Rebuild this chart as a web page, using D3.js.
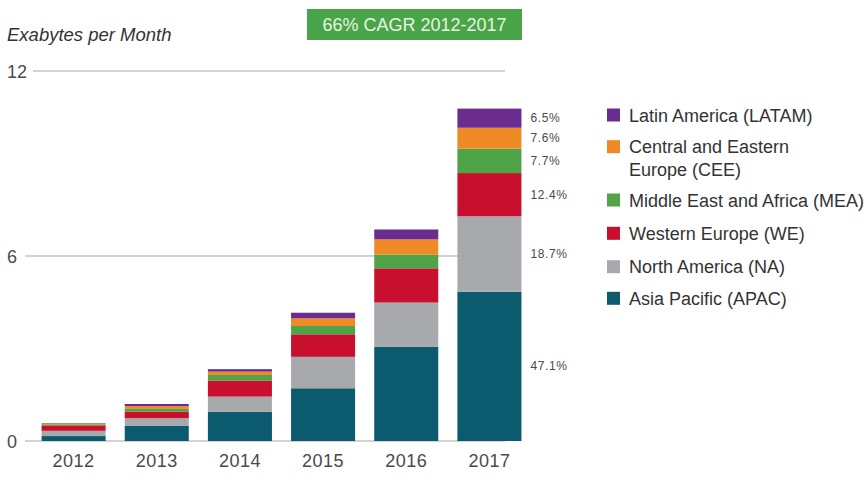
<!DOCTYPE html>
<html>
<head>
<meta charset="utf-8">
<script src="https://cdn.jsdelivr.net/npm/d3@7"></script>
<style>
  html, body { margin: 0; padding: 0; background: #fff; }
  svg { display: block; font-family: "Liberation Sans", Arial, sans-serif; }
</style>
</head>
<body>
<svg id="chart" width="864" height="480"></svg>
<script>
// ---- data ----
const years = ["2012", "2013", "2014", "2015", "2016", "2017"];
const regionKeys = ["APAC", "NA", "WE", "MEA", "CEE", "LATAM"];
const regionLabels = [
  ["Latin America (LATAM)"],
  ["Central and Eastern", "Europe (CEE)"],
  ["Middle East and Africa (MEA)"],
  ["Western Europe (WE)"],
  ["North America (NA)"],
  ["Asia Pacific (APAC)"]
];
const legendOrder = ["LATAM", "CEE", "MEA", "WE", "NA", "APAC"];
const apac  = [0.16, 0.49, 0.95, 1.71, 3.06, 4.84];
const na    = [0.17, 0.25, 0.49, 1.02, 1.43, 2.45];
const we    = [0.16, 0.21, 0.52, 0.73, 1.11, 1.40];
const mea   = [0.03, 0.09, 0.18, 0.27, 0.45, 0.79];
const cee   = [0.03, 0.09, 0.11, 0.25, 0.49, 0.68];
const latam = [0.02, 0.07, 0.08, 0.18, 0.32, 0.62];
const share2017 = ["47.1%", "18.7%", "12.4%", "7.7%", "7.6%", "6.5%"];
const yTicks = [0, 6, 12];
const yTitle = "Exabytes per Month";
const banner = "66% CAGR 2012-2017";

const colors = {
  APAC: "#0c5a6e", NA: "#a8a9ad", WE: "#c8102e",
  MEA: "#4ea446", CEE: "#f08a24", LATAM: "#6a2c8f"
};

// ---- build table ----
const seriesVals = { APAC: apac, NA: na, WE: we, MEA: mea, CEE: cee, LATAM: latam };
const table = years.map((y, i) => {
  const row = { year: y };
  regionKeys.forEach(k => row[k] = seriesVals[k][i]);
  return row;
});
const stacked = d3.stack().keys(regionKeys)(table);

const svg = d3.select("#chart");

const x = d3.scaleBand().domain(years).range([32, 531])
  .paddingInner(0.23).paddingOuter(0.115);
const y = d3.scaleLinear().domain([0, 12]).range([441, 71]);

// gridlines + y labels
const yAxisG = svg.append("g");
yAxisG.selectAll("line").data(yTicks).enter().append("line")
  .attr("x1", d => d >= 10 ? 33 : 25)
  .attr("x2", 505)
  .attr("y1", d => y(d)).attr("y2", d => y(d))
  .attr("stroke", "#c4c4c4").attr("stroke-width", 1.5);
yAxisG.selectAll("text").data(yTicks).enter().append("text")
  .attr("x", 7).attr("y", d => y(d) + 6.5)
  .attr("font-size", 18).attr("fill", "#4a4a4a")
  .text(d => d);

// bars
svg.append("g").selectAll("g").data(stacked).enter().append("g")
  .attr("fill", d => colors[d.key])
  .selectAll("rect").data(d => d).enter().append("rect")
  .attr("x", d => x(d.data.year))
  .attr("width", x.bandwidth())
  .attr("y", d => y(d[1]))
  .attr("height", d => y(d[0]) - y(d[1]));

// x axis labels
const xAxis = d3.axisBottom(x).tickSize(0).tickPadding(0);
const xg = svg.append("g").attr("transform", "translate(0,454)").call(xAxis);
xg.select(".domain").remove();
xg.selectAll("text").attr("font-size", 18).attr("fill", "#4a4a4a")
  .attr("font-family", "\"Liberation Sans\", Arial, sans-serif")
  .attr("letter-spacing", 0.5)
  .attr("dy", "0.71em");

// 2017 share labels
const last = years.length - 1;
svg.append("g").selectAll("text").data(stacked).enter().append("text")
  .attr("x", x(years[last]) + x.bandwidth() + 9)
  .attr("y", (d, i) => (y(d[last][0]) + y(d[last][1])) / 2 + 4)
  .attr("font-size", 12).attr("fill", "#4a4a4a").attr("letter-spacing", 0.6)
  .text((d, i) => share2017[i]);

// y title
svg.append("text").attr("x", 7).attr("y", 41)
  .attr("font-size", 18.5).attr("font-style", "italic").attr("fill", "#333")
  .text(yTitle);

// banner
svg.append("rect").attr("x", 307).attr("y", 9).attr("width", 215).attr("height", 31)
  .attr("fill", "#4aa54a");
svg.append("text").attr("x", 414.5).attr("y", 31).attr("text-anchor", "middle")
  .attr("font-size", 18).attr("fill", "#e6f4df")
  .text(banner);

// legend
const legendY = [115, 146.7, 200, 233.3, 266.7, 298.3];
const lg = svg.append("g").selectAll("g").data(legendOrder).enter().append("g")
  .attr("transform", (d, i) => `translate(607,${legendY[i]})`);
lg.append("rect").attr("x", 0).attr("y", -6.5).attr("width", 13).attr("height", 13)
  .attr("fill", d => colors[d]);
lg.append("text").attr("x", 22).attr("y", 6.5)
  .attr("font-size", 18).attr("fill", "#333")
  .each(function(d, i) {
    const t = d3.select(this);
    regionLabels[i].forEach((line, j) => {
      t.append("tspan").attr("x", 22).attr("dy", j === 0 ? 0 : 22.6).text(line);
    });
  });
</script>
</body>
</html>
